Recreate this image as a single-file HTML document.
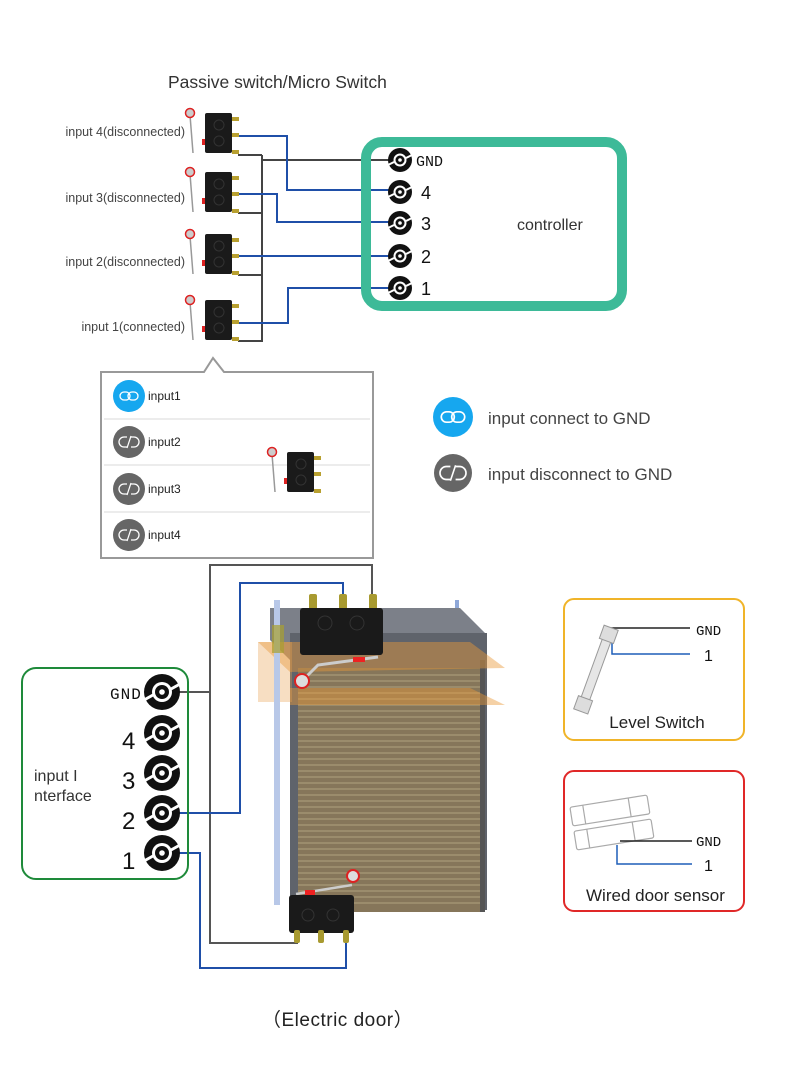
<!DOCTYPE html>
<html><head><meta charset="utf-8">
<style>
html,body{margin:0;padding:0;background:#fff;}
svg{display:block;font-family:"Liberation Sans",sans-serif;}
</style></head>
<body>
<svg width="790" height="1074" viewBox="0 0 790 1074" xmlns="http://www.w3.org/2000/svg">
<defs>
  <g id="term">
    <circle r="12" fill="#111"/>
    <circle r="6.5" fill="#fff"/>
    <circle r="4.5" fill="#111"/>
    <circle r="1.8" fill="#fff"/>
    <path d="M-12 5 L-6 2" stroke="#fff" stroke-width="2"/>
    <path d="M12 -5 L6 -2" stroke="#fff" stroke-width="2"/>
  </g>
  <g id="bterm">
    <circle r="18" fill="#111"/>
    <circle r="10" fill="#fff"/>
    <circle r="7" fill="#111"/>
    <circle r="2.8" fill="#fff"/>
    <path d="M-18 8 L-9 3" stroke="#fff" stroke-width="3"/>
    <path d="M18 -8 L9 -3" stroke="#fff" stroke-width="3"/>
  </g>
  <g id="msw">
    <path d="M-15 2 L-12 40" stroke="#999" stroke-width="1.5" fill="none"/>
    <circle cx="-15" cy="0" r="4.5" fill="#ccc" stroke="#d22" stroke-width="1.5"/>
    <rect x="-3" y="26" width="4" height="6" fill="#d22"/>
    <rect x="0" y="0" width="27" height="40" rx="2" fill="#1a1a1a"/>
    <circle cx="14" cy="12" r="5" fill="none" stroke="#333"/>
    <circle cx="14" cy="28" r="5" fill="none" stroke="#333"/>
    <rect x="27" y="4" width="7" height="4" fill="#b8a030"/>
    <rect x="27" y="20" width="7" height="4" fill="#b8a030"/>
    <rect x="27" y="37" width="7" height="4" fill="#b8a030"/>
  </g>
  <g id="link">
    <rect x="-9" y="-4" width="10" height="8" rx="4" fill="none" stroke="#fff" stroke-width="1.3"/>
    <rect x="-1" y="-4" width="10" height="8" rx="4" fill="none" stroke="#fff" stroke-width="1.3"/>
  </g>
  <g id="unlink">
    <path d="M-2 -5 H-5 A5 5 0 0 0 -5 5 H-2" fill="none" stroke="#fff" stroke-width="1.3"/>
    <path d="M2 -5 H5 A5 5 0 0 1 5 5 H2" fill="none" stroke="#fff" stroke-width="1.3"/>
    <path d="M-2 6 L2 -6" stroke="#fff" stroke-width="1.2"/>
  </g>
</defs>

<text x="168" y="88" font-size="17.5" fill="#333">Passive switch/Micro Switch</text>

<g font-size="12.5" fill="#444" text-anchor="end">
  <text x="185" y="136">input 4(disconnected)</text>
  <text x="185" y="202">input 3(disconnected)</text>
  <text x="185" y="266">input 2(disconnected)</text>
  <text x="185" y="331">input 1(connected)</text>
</g>

<g fill="none" stroke-width="2">
  <path d="M238 155 H262 M238 213 H262 M238 275 H262 M238 341 H262 M262 155 V342 M262 160 H400" stroke="#444"/>
  <path d="M238 136 H287 V190 H400" stroke="#1f4fa8"/>
  <path d="M238 194 H277 V222 H400" stroke="#1f4fa8"/>
  <path d="M238 256 H400" stroke="#1f4fa8"/>
  <path d="M238 323 H288 V288 H400" stroke="#1f4fa8"/>
</g>

<use href="#msw" x="205" y="113"/>
<use href="#msw" x="205" y="172"/>
<use href="#msw" x="205" y="234"/>
<use href="#msw" x="205" y="300"/>

<rect x="366" y="142" width="256" height="164" rx="16" fill="none" stroke="#3dba98" stroke-width="10"/>
<text x="517" y="230" font-size="16" fill="#333">controller</text>
<use href="#term" x="400" y="160"/>
<use href="#term" x="400" y="192"/>
<use href="#term" x="400" y="223"/>
<use href="#term" x="400" y="256"/>
<use href="#term" x="400" y="288"/>
<text x="416" y="166" font-size="15" fill="#111" font-family="Liberation Mono, monospace">GND</text>
<g font-size="18" fill="#111"><text x="421" y="199">4</text><text x="421" y="230">3</text><text x="421" y="263">2</text><text x="421" y="295">1</text></g>

<path d="M101 372 H204 L213 358 L224 372 H373 V558 H101 Z" fill="#fff" stroke="#999" stroke-width="2"/>
<g stroke="#e6e6e6" stroke-width="1.5"><path d="M104 419 H370 M104 465 H370 M104 512 H370"/></g>
<circle cx="129" cy="396" r="16" fill="#16a7ef"/><use href="#link" x="129" y="396"/>
<circle cx="129" cy="442" r="16" fill="#666"/><use href="#unlink" x="129" y="442"/>
<circle cx="129" cy="489" r="16" fill="#666"/><use href="#unlink" x="129" y="489"/>
<circle cx="129" cy="535" r="16" fill="#666"/><use href="#unlink" x="129" y="535"/>
<g font-size="12" fill="#222"><text x="148" y="400">input1</text><text x="148" y="446">input2</text><text x="148" y="493">input3</text><text x="148" y="539">input4</text></g>
<use href="#msw" x="287" y="452"/>

<circle cx="453" cy="417" r="20" fill="#16a7ef"/><use href="#link" transform="translate(453 417) scale(1.3)"/>
<circle cx="453" cy="473" r="19" fill="#666"/><use href="#unlink" transform="translate(453 473) scale(1.3)"/>
<text x="488" y="424" font-size="17" fill="#444">input connect to GND</text>
<text x="488" y="480" font-size="17" fill="#444">input disconnect to GND</text>

<rect x="455" y="600" width="4" height="12" fill="#8fa8d8"/>
<polygon points="270,608 460,608 487,635 487,660 290,660 270,640" fill="#7c8089"/>
<rect x="290" y="633" width="197" height="277" fill="#5f636b"/>
<rect x="298" y="668" width="182" height="244" fill="#86765a"/>
<g stroke="#a89a78" stroke-width="1.2">
  <path d="M298 675H480M298 681H480M298 687H480M298 693H480M298 699H480M298 705H480M298 711H480M298 717H480M298 723H480M298 729H480M298 735H480M298 741H480M298 747H480M298 753H480M298 759H480M298 765H480M298 771H480M298 777H480M298 783H480M298 789H480M298 795H480M298 801H480M298 807H480M298 813H480M298 819H480M298 825H480M298 831H480M298 837H480M298 843H480M298 849H480M298 855H480M298 861H480M298 867H480M298 873H480M298 879H480M298 885H480M298 891H480M298 897H480M298 903H480"/>
</g>
<rect x="480" y="660" width="5" height="252" fill="#555"/>
<polygon points="258,642 470,642 505,668 290,672" fill="#e89a3a" fill-opacity="0.45"/>
<polygon points="290,688 470,688 505,705 290,705" fill="#e89a3a" fill-opacity="0.45"/>
<rect x="258" y="642" width="34" height="60" fill="#e8a050" fill-opacity="0.35"/>
<rect x="274" y="600" width="6" height="305" fill="#b8c8e8"/>
<rect x="272" y="625" width="12" height="28" fill="#a8a030" fill-opacity="0.7"/>
<g fill="none" stroke-width="2">
  <path d="M174 692 H210 V565 H372 V598" stroke="#555"/>
  <path d="M210 692 V943 H297 V935" stroke="#555"/>
  <path d="M162 813 H240 V583 H343 V598" stroke="#1f4fa8"/>
  <path d="M162 853 H200 V968 H346 V938" stroke="#1f4fa8"/>
</g>
<rect x="309" y="594" width="8" height="16" rx="2" fill="#a89a30"/>
<rect x="339" y="594" width="8" height="16" rx="2" fill="#a89a30"/>
<rect x="369" y="594" width="8" height="16" rx="2" fill="#a89a30"/>
<rect x="300" y="608" width="83" height="47" rx="3" fill="#1a1a1a"/>
<circle cx="325" cy="623" r="7" fill="none" stroke="#333"/><circle cx="357" cy="623" r="7" fill="none" stroke="#333"/>
<path d="M303 680 L318 665 L378 657" stroke="#ccc" stroke-width="3" fill="none"/>
<rect x="353" y="657" width="12" height="5" fill="#e22"/>
<circle cx="302" cy="681" r="7" fill="#ddd" stroke="#d22" stroke-width="2"/>
<path d="M296 894 L352 885" stroke="#ccc" stroke-width="2.5"/>
<circle cx="353" cy="876" r="6" fill="#ddd" stroke="#d22" stroke-width="2"/>
<rect x="305" y="890" width="10" height="5" fill="#e22"/>
<rect x="289" y="895" width="65" height="38" rx="3" fill="#1a1a1a"/>
<circle cx="308" cy="915" r="6" fill="none" stroke="#333"/><circle cx="333" cy="915" r="6" fill="none" stroke="#333"/>
<rect x="294" y="930" width="6" height="13" rx="2" fill="#a89a30"/>
<rect x="318" y="930" width="6" height="13" rx="2" fill="#a89a30"/>
<rect x="343" y="930" width="6" height="13" rx="2" fill="#a89a30"/>

<rect x="22" y="668" width="166" height="211" rx="14" fill="none" stroke="#1e8a3a" stroke-width="2"/>
<use href="#bterm" x="162" y="692"/>
<use href="#bterm" x="162" y="733"/>
<use href="#bterm" x="162" y="773"/>
<use href="#bterm" x="162" y="813"/>
<use href="#bterm" x="162" y="853"/>
<text x="110" y="699" font-size="16" fill="#111" font-family="Liberation Mono, monospace" letter-spacing="1">GND</text>
<g font-size="24" fill="#111"><text x="122" y="749">4</text><text x="122" y="789">3</text><text x="122" y="829">2</text><text x="122" y="869">1</text></g>
<text x="34" y="781" font-size="16" fill="#333">input I</text>
<text x="34" y="801" font-size="16" fill="#333">nterface</text>

<rect x="564" y="599" width="180" height="141" rx="10" fill="none" stroke="#f0b429" stroke-width="2"/>
<path d="M608 628 H690" stroke="#222" stroke-width="1.5"/>
<path d="M612 632 V654 H690" stroke="#1f5fb8" stroke-width="1.5" fill="none"/>
<g transform="rotate(20 596 668)">
  <rect x="592" y="630" width="9" height="76" fill="#e6e6e6" stroke="#999"/>
  <rect x="589" y="625" width="15" height="14" fill="#ddd" stroke="#999"/>
  <rect x="589" y="700" width="15" height="14" fill="#ddd" stroke="#999"/>
</g>
<text x="696" y="635" font-size="14" fill="#111" font-family="Liberation Mono, monospace">GND</text>
<text x="704" y="661" font-size="16" fill="#111">1</text>
<text x="657" y="728" font-size="17" fill="#222" text-anchor="middle">Level Switch</text>

<rect x="564" y="771" width="180" height="140" rx="10" fill="none" stroke="#e02828" stroke-width="2"/>
<g fill="#fff" stroke="#aaa" stroke-width="1.2">
  <g transform="rotate(-9 610 811)"><rect x="571" y="801" width="78" height="19" rx="2"/><path d="M584 801V820M630 801V820"/></g>
  <g transform="rotate(-9 614 835)"><rect x="575" y="825" width="78" height="19" rx="2"/><path d="M588 825V844M634 825V844"/></g>
</g>
<path d="M620 841 H692" stroke="#222" stroke-width="1.5"/>
<path d="M617 845 V864 H692" stroke="#1f5fb8" stroke-width="1.5" fill="none"/>
<text x="696" y="846" font-size="14" fill="#111" font-family="Liberation Mono, monospace">GND</text>
<text x="704" y="871" font-size="16" fill="#111">1</text>
<text x="586" y="901" font-size="17" fill="#222">Wired door sensor</text>

<text x="262" y="1026" font-size="19" fill="#222" letter-spacing="0.5">（Electric door）</text>
</svg>
</body></html>
